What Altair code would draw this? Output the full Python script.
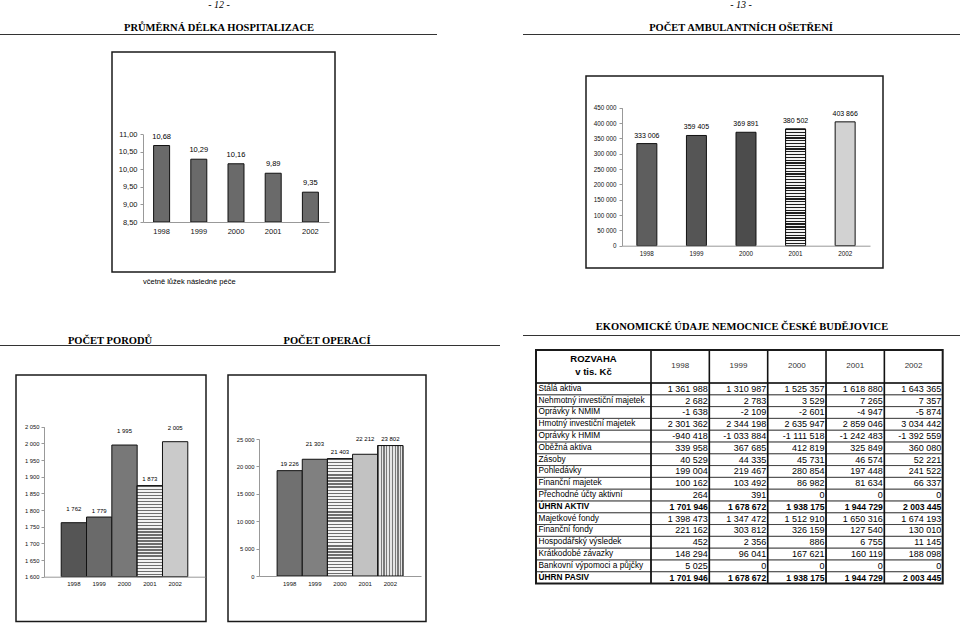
import altair as alt
import pandas as pd

# ---------------- data ----------------
years = ["1998", "1999", "2000", "2001", "2002"]
hosp_days = [10.68, 10.29, 10.16, 9.89, 9.35]
amb_visits = [333006, 359405, 369891, 380502, 403866]
births = [1762, 1779, 1995, 1873, 2005]
operations = [19226, 21303, 21403, 22212, 23802]

hosp_ticks = [8.5, 9.0, 9.5, 10.0, 10.5, 11.0]
amb_ticks = [0, 50000, 100000, 150000, 200000, 250000, 300000, 350000, 400000, 450000]
births_ticks = [1600, 1650, 1700, 1750, 1800, 1850, 1900, 1950, 2000, 2050]
ops_ticks = [0, 5000, 10000, 15000, 20000, 25000]

row_labels = [
    "Stálá aktiva", "Nehmotný investiční majetek", "Oprávky k NMIM",
    "Hmotný investiční majetek", "Oprávky k HMIM", "Oběžná aktiva", "Zásoby",
    "Pohledávky", "Finanční majetek", "Přechodné účty aktivní", "ÚHRN AKTIV",
    "Majetkové fondy", "Finanční fondy", "Hospodářský výsledek",
    "Krátkodobé závazky", "Bankovní výpomoci a půjčky", "ÚHRN PASIV",
]
t1998 = [1361988, 2682, -1638, 2301362, -940418, 339958, 40529, 199004, 100162, 264,
         1701946, 1398473, 221162, 452, 148294, 5025, 1701946]
t1999 = [1310987, 2783, -2109, 2344198, -1033884, 367685, 44335, 219467, 103492, 391,
         1678672, 1347472, 303812, 2356, 96041, 0, 1678672]
t2000 = [1525357, 3529, -2601, 2635947, -1111518, 412819, 45731, 280854, 86982, 0,
         1938175, 1512910, 326159, 886, 167621, 0, 1938175]
t2001 = [1618880, 7265, -4947, 2859046, -1242483, 325849, 46574, 197448, 81634, 0,
         1944729, 1650316, 127540, 6755, 160119, 0, 1944729]
t2002 = [1643365, 7357, -5874, 3034442, -1392559, 360080, 52221, 241522, 66337, 0,
         2003445, 1674193, 130010, 11145, 188098, 0, 2003445]
table_cols = [t1998, t1999, t2000, t2001, t2002]

SANS = "Liberation Sans"
SERIF = "Liberation Serif"
H = 623


def fmt_sp(v, sep=" "):
    return f"{v:,}".replace(",", sep)


def one():
    return alt.Data(values=[{}])


def deco_text(txt, x, y, size, bold=False, italic=False, font=SERIF, align="center", color="#000"):
    return alt.Chart(one()).mark_text(
        text=txt, font=font, fontSize=size, fontWeight="bold" if bold else "normal",
        fontStyle="italic" if italic else "normal", align=align, baseline="middle", color=color
    ).encode(x=alt.value(x), y=alt.value(y))


def hline(x1, x2, y, w=1.2, color="#333"):
    return alt.Chart(one()).mark_rule(color=color, strokeWidth=w).encode(
        x=alt.value(x1), x2=alt.value(x2), y=alt.value(y))


def frame(x1, y1, x2, y2, w=1.5):
    return alt.Chart(one()).mark_rect(fillOpacity=0, stroke="#1a1a1a", strokeWidth=w).encode(
        x=alt.value(x1), x2=alt.value(x2), y=alt.value(y1), y2=alt.value(y2))


def stripes(n, dark, light, duty, vertical=False):
    stops = []
    for k in range(n):
        a = round(k / n, 5)
        b = round((k + duty) / n, 5)
        c = round((k + 1) / n, 5)
        stops += [alt.GradientStop(offset=a, color=dark), alt.GradientStop(offset=b, color=dark),
                  alt.GradientStop(offset=b, color=light), alt.GradientStop(offset=c, color=light)]
    if vertical:
        return alt.LinearGradient(gradient="linear", stops=stops, x1=0, y1=0, x2=1, y2=0)
    return alt.LinearGradient(gradient="linear", stops=stops, x1=0, y1=0, x2=0, y2=1)


def panel(vals, labels, fills, x_rng, p_in, p_out, y_dom, y_rng, y_ticks, lab_expr,
          ax_x, ax_y, tick_fs, val_fs, yr_fs, lo_dy, hi_dy, hi_years, overlays,
          y_lab_pad=2, x_lab_pad=4):
    df = pd.DataFrame({"year": years, "v": vals, "lab": labels})
    x = alt.X("year:N",
              scale=alt.Scale(type="band", domain=years, range=x_rng,
                              paddingInner=p_in, paddingOuter=p_out),
              axis=alt.Axis(title=None, orient="bottom", offset=ax_y - H, labelAngle=0,
                            ticks=False, labelPadding=x_lab_pad, labelFontSize=yr_fs,
                            labelFont=SANS, labelColor="#111", domainColor="#999",
                            grid=False, labelOverlap=False, zindex=1))
    y = alt.Y("v:Q",
              scale=alt.Scale(domain=y_dom, range=y_rng, nice=False, zero=False),
              axis=alt.Axis(title=None, orient="left", offset=-ax_x, values=y_ticks,
                            labelExpr=lab_expr, grid=False, tickSize=3, tickColor="#999",
                            domainColor="#999", labelFontSize=tick_fs, labelFont=SANS,
                            labelPadding=y_lab_pad, labelColor="#111", labelOverlap=False,
                            labelFlush=False, zindex=1))
    y2 = alt.datum(y_dom[0])
    layers = [
        alt.Chart(df).mark_bar(stroke="#111", strokeWidth=1).encode(
            x=x, y=y, y2=y2,
            fill=alt.Fill("year:N", scale=alt.Scale(domain=years, range=fills), legend=None))
    ]
    for yr, grad in overlays:
        layers.append(
            alt.Chart(df).transform_filter(alt.datum.year == yr)
            .mark_bar(fill=grad, stroke="#111", strokeWidth=1)
            .encode(x=x, y=y, y2=y2))
    lo_years = [yv for yv in years if yv not in hi_years]
    layers.append(
        alt.Chart(df).transform_filter(alt.FieldOneOfPredicate(field="year", oneOf=lo_years))
        .mark_text(baseline="middle", dy=lo_dy, fontSize=val_fs, font=SANS, color="#000")
        .encode(x=x, y=y, text="lab:N"))
    if hi_years:
        layers.append(
            alt.Chart(df).transform_filter(alt.FieldOneOfPredicate(field="year", oneOf=hi_years))
            .mark_text(baseline="middle", dy=hi_dy, fontSize=val_fs, font=SANS, color="#000")
            .encode(x=x, y=y, text="lab:N"))
    return alt.layer(*layers)


COMMA_DEC = "replace(format(datum.value, '.2f'), '.', ',')"
SPACE_THOU = "replace(format(datum.value, ','), ',', ' ')"

# ---- chart 1: hospitalisation length ----
c1 = panel(hosp_days, [f"{v:.2f}".replace(".", ",") for v in hosp_days],
           ["#6a6a6a"] * 5, [143, 329], 0.57, 0.285, [8.5, 11.0], [222, 134.3],
           hosp_ticks, COMMA_DEC, 143, 222, 7.5, 7.5, 7.5, -9, -9, [], [],
           y_lab_pad=3, x_lab_pad=5)

# ---- chart 2: outpatient treatments ----
c2 = panel(amb_visits, [fmt_sp(v) for v in amb_visits],
           ["#5e5e5e", "#555555", "#4c4c4c", "#777777", "#d2d2d2"],
           [622, 870], 0.597, 0.3, [0, 450000], [245.7, 107.7], amb_ticks, SPACE_THOU,
           622, 245.7, 6.3, 7, 6.3, -8, -8, [],
           [("2001", stripes(42, "#1e1e1e", "#f4f4f4", 0.45))],
           y_lab_pad=3, x_lab_pad=5)

# ---- chart 3: births ----
c3 = panel(births, [fmt_sp(v) for v in births],
           ["#555555", "#6a6a6a", "#787878", "#aaaaaa", "#cacaca"],
           [44, 205], 0.0, 0.68, [1600, 2050], [576.7, 426.7], births_ticks, SPACE_THOU,
           44, 576.7, 5.8, 6, 6, -6.5, -14, ["1998", "2000", "2002"],
           [("2001", stripes(30, "#6e6e6e", "#f2f2f2", 0.45))],
           y_lab_pad=2, x_lab_pad=4)

# ---- chart 4: operations ----
c4 = panel(operations, [fmt_sp(v) for v in operations],
           ["#707070", "#808080", "#aaaaaa", "#c2c2c2", "#aaaaaa"],
           [259, 421], 0.0, 0.72, [0, 25000], [576.0, 439.0], ops_ticks, SPACE_THOU,
           259, 576.0, 5.8, 6, 6, -6.5, -15, ["1999", "2001"],
           [("2000", stripes(38, "#6e6e6e", "#f4f4f4", 0.45)),
            ("2002", stripes(9, "#7a7a7a", "#e6e6e6", 0.45, vertical=True))],
           y_lab_pad=2, x_lab_pad=4)

# ---- table ----
TB_X0, TB_X1, TB_LC = 536, 942.7, 651
TB_Y0, TB_HB, TB_Y1 = 350, 383, 583.5
recs = []
for ci, yv in enumerate(years):
    for ri, lab in enumerate(row_labels):
        recs.append({"r": ri, "col": yv, "txt": fmt_sp(table_cols[ci][ri]),
                     "bold": lab.startswith("ÚHRN")})
df_t = pd.DataFrame(recs)
df_lab = pd.DataFrame({"r": list(range(len(row_labels))), "label": row_labels,
                       "bold": [l.startswith("ÚHRN") for l in row_labels]})
df_cols = pd.DataFrame({"col": years})

tscale_x = alt.Scale(type="band", domain=years, range=[TB_LC, TB_X1], paddingInner=0, paddingOuter=0)
tscale_y = alt.Scale(type="band", domain=list(range(len(row_labels))), range=[TB_HB, TB_Y1],
                     paddingInner=0, paddingOuter=0)
ty = alt.Y("r:O", scale=tscale_y, axis=None)
tx = alt.X("col:N", scale=tscale_x, axis=None)
tx_end = alt.X("col:N", scale=tscale_x, axis=None, bandPosition=1)
tx_start = alt.X("col:N", scale=tscale_x, axis=None, bandPosition=0)

tbl = alt.layer(
    alt.Chart(df_t).mark_rect(fillOpacity=0, stroke="#222", strokeWidth=0.6).encode(x=tx, y=ty),
    alt.Chart(df_lab).mark_rect(fillOpacity=0, stroke="#222", strokeWidth=0.6).encode(
        x=alt.value(TB_X0), x2=alt.value(TB_LC), y=ty),
    alt.Chart(df_t).transform_filter("!datum.bold").mark_text(
        align="right", baseline="middle", dx=-1.5, fontSize=9, font=SANS, color="#000"
    ).encode(x=tx_end, y=ty, text="txt:N"),
    alt.Chart(df_t).transform_filter("datum.bold").mark_text(
        align="right", baseline="middle", dx=-1.5, fontSize=8.6, font=SANS, fontWeight="bold", color="#000"
    ).encode(x=tx_end, y=ty, text="txt:N"),
    alt.Chart(df_lab).transform_filter("!datum.bold").mark_text(
        align="left", baseline="middle", fontSize=8.3, font=SANS, color="#000"
    ).encode(x=alt.value(TB_X0 + 2.5), y=ty, text="label:N"),
    alt.Chart(df_lab).transform_filter("datum.bold").mark_text(
        align="left", baseline="middle", fontSize=8.3, font=SANS, fontWeight="bold", color="#000"
    ).encode(x=alt.value(TB_X0 + 2.5), y=ty, text="label:N"),
    alt.Chart(df_cols).mark_text(baseline="middle", fontSize=8, font=SANS, color="#333").encode(
        x=tx, y=alt.value(366), text="col:N"),
    alt.Chart(df_cols).mark_rule(strokeWidth=1.6, color="#111").encode(
        x=tx_start, y=alt.value(TB_Y0), y2=alt.value(TB_Y1)),
)

decor_back = [
    deco_text("- 12 -", 219, 5, 10, italic=True),
    deco_text("PRŮMĚRNÁ DÉLKA HOSPITALIZACE", 219, 28, 10.5, bold=True),
    hline(0, 437, 34.5),
    deco_text("- 13 -", 741, 5, 10, italic=True),
    deco_text("POČET AMBULANTNÍCH OŠETŘENÍ", 741, 28, 10.5, bold=True),
    hline(523, 960, 34.5),
    frame(112, 52, 335, 272),
    deco_text("včetně lůžek následné péče", 143, 282, 7.5, font=SANS, align="left"),
    frame(586, 76, 883, 268),
    deco_text("POČET PORODŮ", 110, 340.5, 10.5, bold=True),
    deco_text("POČET OPERACÍ", 327, 340.5, 10.5, bold=True),
    hline(0, 500, 345.5),
    frame(16, 375, 206, 621.5),
    frame(228, 375, 426, 621.5),
    deco_text("EKONOMICKÉ ÚDAJE NEMOCNICE ČESKÉ BUDĚJOVICE", 742, 327, 10.5, bold=True),
    hline(523, 960, 335.5),
]
decor_front = [
    frame(TB_X0, TB_Y0, TB_X1, TB_Y1, w=2),
    hline(TB_X0, TB_X1, TB_HB, w=1.6, color="#111"),
    deco_text("ROZVAHA", 593.5, 359, 9.5, bold=True, font=SANS),
    deco_text("v tis. Kč", 593.5, 372, 9.5, bold=True, font=SANS),
]

chart = alt.layer(*decor_back, c1, c2, c3, c4, tbl, *decor_front).resolve_scale(
    x="independent", y="independent", fill="independent"
).properties(
    width=960, height=623, autosize=alt.AutoSizeParams(type="none"), padding=0,
    background="white",
).configure_view(stroke=None)

chart.save("out.html", embed_options={"renderer": "svg", "actions": False})
